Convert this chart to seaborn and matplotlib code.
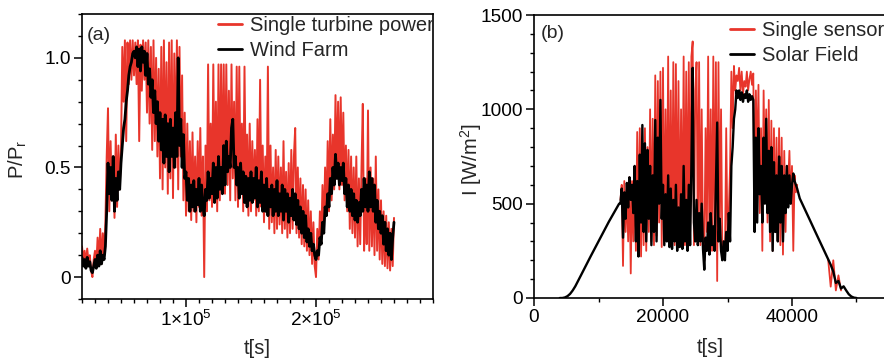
import numpy as np
import pandas as pd
import matplotlib
matplotlib.use("Agg")
import matplotlib.pyplot as plt
import seaborn as sns
from matplotlib.ticker import FixedLocator, MultipleLocator

# ---------------- data ----------------
# panel (a): normalised power, samples every 1000 s starting at t = 20000 s
wind_t0, wind_dt = 20000, 1000
wind_single = [
    0.14, 0.08, 0.12, 0.06, 0.13, 0.07, 0.10, 0.03, 0.00, 0.08,
    0.12, 0.05, 0.18, 0.07, 0.22, 0.06, 0.20, 0.10, 0.25, 0.55,
    0.77, 0.30, 0.62, 0.35, 0.55, 0.27, 0.65, 0.32, 0.60, 0.40,
    0.58, 1.05, 0.80, 1.08, 0.62, 1.07, 0.88, 1.08, 0.90, 1.08,
    0.92, 1.07, 0.88, 1.08, 0.62, 1.06, 0.85, 1.08, 0.90, 1.07,
    0.75, 1.08, 0.70, 1.05, 0.58, 1.08, 0.62, 1.00, 0.55, 0.95,
    0.45, 1.05, 0.40, 1.08, 0.50, 0.98, 0.38, 1.07, 0.45, 1.08,
    0.36, 1.02, 0.50, 1.08, 0.40, 1.05, 0.55, 0.92, 0.35, 0.75,
    0.28, 0.70, 0.30, 0.62, 0.26, 0.66, 0.30, 0.55, 0.25, 0.62,
    0.32, 0.68, 0.28, 0.55, 0.00, 0.60, 0.30, 0.97, 0.35, 0.70,
    0.32, 0.97, 0.38, 0.80, 0.30, 0.97, 0.35, 0.97, 0.40, 0.97,
    0.38, 0.97, 0.42, 0.85, 0.35, 0.97, 0.45, 0.80, 0.35, 0.96,
    0.32, 0.96, 0.40, 0.70, 0.30, 0.96, 0.38, 0.65, 0.28, 0.70,
    0.30, 0.62, 0.35, 0.58, 0.28, 0.72, 0.30, 0.90, 0.32, 0.60,
    0.25, 0.55, 0.30, 0.96, 0.22, 0.60, 0.25, 0.50, 0.20, 0.58,
    0.22, 0.55, 0.24, 0.50, 0.20, 0.62, 0.22, 0.48, 0.18, 0.52,
    0.20, 0.58, 0.22, 0.55, 0.68, 0.20, 0.50, 0.18, 0.45, 0.15,
    0.42, 0.14, 0.40, 0.12, 0.35, 0.10, 0.30, 0.06, 0.25, 0.05,
    0.00, 0.22, 0.08, 0.30, 0.15, 0.42, 0.20, 0.50, 0.28, 0.62,
    0.30, 0.72, 0.35, 0.65, 0.40, 0.83, 0.45, 0.80, 0.40, 0.82,
    0.42, 0.75, 0.35, 0.60, 0.30, 0.58, 0.22, 0.55, 0.20, 0.50,
    0.18, 0.55, 0.14, 0.45, 0.15, 0.50, 0.79, 0.12, 0.45, 0.15,
    0.76, 0.12, 0.50, 0.14, 0.45, 0.10, 0.55, 0.12, 0.40, 0.08,
    0.35, 0.06, 0.30, 0.05, 0.28, 0.04, 0.25, 0.03, 0.22, 0.05,
    0.27,
]
wind_farm = [
    0.09, 0.05, 0.08, 0.04, 0.09, 0.05, 0.07, 0.03, 0.02, 0.05,
    0.08, 0.04, 0.10, 0.05, 0.12, 0.06, 0.10, 0.08, 0.14, 0.30,
    0.52, 0.38, 0.50, 0.35, 0.55, 0.30, 0.45, 0.35, 0.48, 0.40,
    0.52, 0.60, 0.68, 0.72, 0.80, 0.85, 0.92, 0.96, 0.98, 1.02,
    1.03, 1.00, 1.05, 0.96, 1.04, 0.94, 1.05, 0.98, 1.03, 0.92,
    1.02, 0.88, 0.95, 0.82, 0.90, 0.75, 0.85, 0.70, 0.80, 0.62,
    0.75, 0.58, 0.72, 0.52, 0.74, 0.55, 0.70, 0.48, 0.72, 0.55,
    0.68, 0.50, 0.75, 0.55, 1.00, 0.60, 0.72, 0.50, 0.65, 0.45,
    0.48, 0.35, 0.45, 0.30, 0.42, 0.32, 0.44, 0.30, 0.40, 0.33,
    0.45, 0.30, 0.42, 0.32, 0.28, 0.40, 0.35, 0.48, 0.36, 0.45,
    0.38, 0.52, 0.34, 0.50, 0.36, 0.55, 0.40, 0.50, 0.38, 0.60,
    0.42, 0.62, 0.48, 0.55, 0.50, 0.68, 0.72, 0.50, 0.55, 0.42,
    0.50, 0.36, 0.52, 0.38, 0.48, 0.34, 0.46, 0.32, 0.45, 0.35,
    0.48, 0.34, 0.45, 0.36, 0.50, 0.32, 0.44, 0.34, 0.48, 0.30,
    0.42, 0.30, 0.45, 0.28, 0.40, 0.32, 0.42, 0.28, 0.40, 0.30,
    0.44, 0.28, 0.38, 0.30, 0.42, 0.26, 0.40, 0.30, 0.38, 0.25,
    0.36, 0.28, 0.40, 0.26, 0.38, 0.24, 0.35, 0.22, 0.32, 0.20,
    0.30, 0.18, 0.28, 0.16, 0.22, 0.14, 0.20, 0.12, 0.15, 0.10,
    0.08, 0.12, 0.10, 0.18, 0.15, 0.25, 0.20, 0.32, 0.28, 0.38,
    0.32, 0.45, 0.38, 0.50, 0.42, 0.56, 0.45, 0.52, 0.42, 0.50,
    0.44, 0.52, 0.38, 0.45, 0.32, 0.42, 0.30, 0.40, 0.28, 0.38,
    0.26, 0.35, 0.25, 0.34, 0.28, 0.40, 0.30, 0.45, 0.32, 0.42,
    0.30, 0.48, 0.32, 0.45, 0.30, 0.42, 0.25, 0.35, 0.22, 0.30,
    0.20, 0.28, 0.15, 0.25, 0.12, 0.22, 0.10, 0.20, 0.08, 0.18,
    0.25,
]

# panel (b): irradiance [W/m^2]
# solar field: morning ramp (every 400 s from 4000 s)
field_ramp_t0, field_ramp_dt = 4000, 400
field_ramp = [
    0, 0, 3, 10, 22, 40, 62, 88, 115, 142, 168, 195, 222, 248, 275, 300,
    326, 352, 378, 404, 428, 452, 476, 500,
]
# cloudy middle of the day (every 200 s from 13400 s)
mid_t0, mid_dt = 13400, 200
field_mid = [
    500, 580, 320, 560, 420, 610, 480, 640, 520, 600,
    450, 700, 300, 620, 220, 760, 400, 917, 350, 820,
    300, 785, 420, 700, 280, 650, 350, 943, 300, 850,
    500, 1050, 420, 600, 280, 550, 300, 650, 270, 580,
    260, 520, 300, 600, 250, 480, 270, 550, 260, 700,
    300, 520, 250, 600, 280, 700, 1220, 400, 300, 520,
    280, 450, 300, 500, 260, 150, 320, 250, 400, 230,
    450, 280, 380, 250, 600, 930, 300, 420, 250, 200,
    300, 200, 350, 250, 450, 300, 700, 800, 950, 1000,
    1100, 1060, 1100, 1050, 1090, 1040, 1080, 1060, 1100, 1040,
    1080, 1050, 1070, 1050, 350, 850, 400, 900, 550, 700,
    400, 850, 500, 950, 450, 780, 350, 800, 250, 720,
    350, 650, 300, 750, 400, 700, 300, 650, 450, 700,
    480, 650, 500, 600, 660, 620, 600, 580,
]
sensor_mid = [
    520, 600, 170, 620, 350, 580, 300, 640, 130, 620,
    300, 640, 250, 880, 300, 900, 220, 750, 280, 900,
    250, 800, 350, 1000, 300, 950, 280, 1180, 330, 1150,
    400, 1200, 270, 1220, 300, 1000, 350, 1280, 280, 1100,
    300, 1250, 280, 1240, 300, 1150, 280, 1000, 300, 1280,
    280, 1200, 320, 1250, 300, 1280, 1360, 280, 1100, 1250,
    300, 1250, 280, 1000, 300, 200, 900, 350, 1280, 250,
    1000, 250, 1280, 300, 1250, 90, 1250, 350, 1000, 250,
    300, 200, 900, 300, 450, 700, 1200, 900, 1230, 1100,
    1180, 1150, 1220, 1100, 1200, 1080, 1150, 1120, 1200, 1100,
    1160, 1200, 1130, 1190, 400, 1100, 700, 1130, 450, 900,
    250, 1100, 600, 1000, 400, 1050, 300, 940, 250, 900,
    350, 850, 300, 900, 280, 850, 230, 780, 350, 700,
    600, 780, 500, 700, 250, 650, 560, 600,
]
# afternoon decline (every 400 s from 41200 s)
tail_t0, tail_dt = 41200, 400
field_tail = [
    528, 499, 469, 440, 411, 381, 352, 323, 294, 264, 235, 206, 176, 140,
    80, 90, 50, 62, 40, 20, 8, 2, 0,
]
sensor_tail_t0 = 45600
sensor_tail = [206, 60, 200, 40, 120, 40]

labels_a = ["Single turbine power", "Wind Farm"]
labels_b = ["Single sensor", "Solar Field"]
xtick_a = [100000, 200000]
xtick_a_labels = ["1×$10^{5}$", "2×$10^{5}$"]
ytick_a = [0, 0.5, 1.0]
ytick_a_labels = ["0", "0.5", "1.0"]
xtick_b = [0, 20000, 40000]
ytick_b = [0, 500, 1000, 1500]

RED = "#e8352b"
BLACK = "#000000"

# ---------------- build tables ----------------
def series(t0, dt, vals, seg=0):
    return pd.DataFrame({"t": t0 + dt * np.arange(len(vals)), "v": vals,
                         "seg": seg})

df_ws = series(wind_t0, wind_dt, wind_single)
df_wf = series(wind_t0, wind_dt, wind_farm)
df_sf = pd.concat([series(field_ramp_t0, field_ramp_dt, field_ramp),
                   series(mid_t0, mid_dt, field_mid),
                   series(tail_t0, tail_dt, field_tail)], ignore_index=True)
df_ss_mid = series(mid_t0, mid_dt, sensor_mid)
df_ss_tail = series(sensor_tail_t0, tail_dt, sensor_tail)

# ---------------- style ----------------
sns.set_style("ticks")
plt.rcParams["font.family"] = ["Liberation Sans", "DejaVu Sans"]
plt.rcParams["mathtext.fontset"] = "custom"
plt.rcParams["mathtext.rm"] = "Liberation Sans"
plt.rcParams["mathtext.it"] = "Liberation Sans:italic"
plt.rcParams["mathtext.bf"] = "Liberation Sans:bold"

fig = plt.figure(figsize=(8.84, 3.64), dpi=100)
W, H = 884, 364
ax1 = fig.add_axes([82 / W, (H - 299) / H, 351 / W, 285 / H])
ax2 = fig.add_axes([534 / W, (H - 298) / H, 387 / W, 283 / H])

TICK_FS = 13.7
LAB_FS = 14.5
LEG_FS = 14.5

# panel (a)
sns.lineplot(data=df_ws, x="t", y="v", ax=ax1, color=RED, lw=1.4,
             estimator=None, sort=False, label=labels_a[0])
sns.lineplot(data=df_wf, x="t", y="v", ax=ax1, color=BLACK, lw=2.0,
             estimator=None, sort=False, label=labels_a[1])
ax1.set_xlim(20000, 290000)
ax1.set_ylim(-0.1, 1.2)
ax1.xaxis.set_major_locator(FixedLocator(xtick_a))
ax1.set_xticklabels(xtick_a_labels)
ax1.xaxis.set_minor_locator(MultipleLocator(10000))
ax1.yaxis.set_major_locator(FixedLocator(ytick_a))
ax1.set_yticklabels(ytick_a_labels)
ax1.yaxis.set_minor_locator(MultipleLocator(0.1))
ax1.set_xlabel("t[s]", fontsize=LAB_FS)
ax1.set_ylabel("P/P$_\\mathrm{r}$", fontsize=LAB_FS)
ax1.xaxis.set_label_coords(0.50, -0.142)
ax1.yaxis.set_label_coords(-0.150, 0.49)
ax1.text(0.014, 0.926, "(a)", transform=ax1.transAxes, fontsize=14,
         va="center", ha="left")
leg1 = ax1.legend(loc="upper left", bbox_to_anchor=(0.387, 0.993),
                  frameon=False, fontsize=LEG_FS, handlelength=1.2,
                  handletextpad=0.4, borderpad=0, borderaxespad=0,
                  labelspacing=0.3)
for line in leg1.get_lines():
    line.set_linewidth(2.0)
for txt in leg1.get_texts():
    txt.set_clip_on(True)
    txt.set_clip_box(ax1.bbox)

# panel (b)
sns.lineplot(data=df_ss_mid, x="t", y="v", ax=ax2, color=RED, lw=1.3,
             estimator=None, sort=False, label=labels_b[0])
sns.lineplot(data=df_ss_tail, x="t", y="v", ax=ax2, color=RED, lw=1.3,
             estimator=None, sort=False)
sns.lineplot(data=df_sf, x="t", y="v", ax=ax2, color=BLACK, lw=1.7,
             estimator=None, sort=False, label=labels_b[1])
ax2.set_xlim(0, 60000)
ax2.set_ylim(0, 1500)
ax2.xaxis.set_major_locator(FixedLocator(xtick_b))
ax2.xaxis.set_minor_locator(MultipleLocator(10000))
ax2.yaxis.set_major_locator(FixedLocator(ytick_b))
ax2.yaxis.set_minor_locator(MultipleLocator(100))
ax2.set_xlabel("t[s]", fontsize=LAB_FS)
ax2.set_ylabel("I [W/m$^{2}$]", fontsize=LAB_FS)
ax2.xaxis.set_label_coords(0.455, -0.141)
ax2.yaxis.set_label_coords(-0.128, 0.49)
ax2.text(0.018, 0.936, "(b)", transform=ax2.transAxes, fontsize=14,
         va="center", ha="left")
h, l = ax2.get_legend_handles_labels()
leg2 = ax2.legend(h[:2], labels_b, loc="upper left",
                  bbox_to_anchor=(0.506, 0.978),
                  frameon=False, fontsize=LEG_FS, handlelength=1.2,
                  handletextpad=0.4, borderpad=0, borderaxespad=0,
                  labelspacing=0.3)
for line in leg2.get_lines():
    line.set_linewidth(2.0)

for ax in (ax1, ax2):
    for s in ax.spines.values():
        s.set_linewidth(1.2)
        s.set_color("black")
        s.set_visible(True)
    ax.tick_params(which="major", direction="out", length=6, width=1.1,
                   labelsize=TICK_FS, top=False, right=False, pad=2,
                   colors="black")
    ax.tick_params(which="minor", direction="out", length=3.2, width=1.0,
                   top=False, right=False, colors="black")
    ax.set_facecolor("white")

fig.patch.set_facecolor("white")
fig.savefig("out.png", dpi=100)
